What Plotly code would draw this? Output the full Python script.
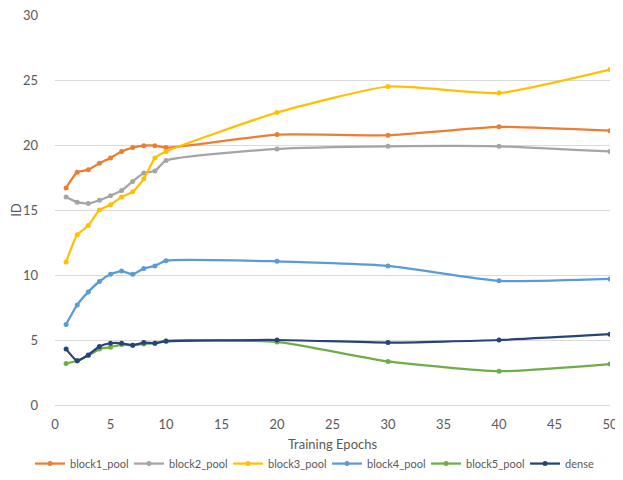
import plotly.graph_objects as go

epochs = [1, 2, 3, 4, 5, 6, 7, 8, 9, 10, 20, 30, 40, 50]
block1_pool = [16.7, 17.9, 18.1, 18.6, 19.0, 19.5, 19.8, 19.95, 19.95, 19.8, 20.8, 20.75, 21.4, 21.1]
block2_pool = [16.0, 15.6, 15.5, 15.75, 16.1, 16.5, 17.2, 17.85, 18.0, 18.8, 19.7, 19.9, 19.9, 19.5]
block3_pool = [11.0, 13.1, 13.8, 15.0, 15.4, 16.0, 16.4, 17.4, 19.0, 19.5, 22.5, 24.5, 24.0, 25.8]
block4_pool = [6.2, 7.7, 8.7, 9.5, 10.05, 10.3, 10.05, 10.5, 10.7, 11.1, 11.05, 10.7, 9.55, 9.7]
block5_pool = [3.2, 3.4, 3.8, 4.3, 4.45, 4.65, 4.6, 4.7, 4.75, 4.95, 4.85, 3.35, 2.6, 3.15]
dense = [4.3, 3.4, 3.85, 4.5, 4.75, 4.75, 4.6, 4.8, 4.75, 4.9, 5.0, 4.8, 5.0, 5.45]

series = [
    ("block1_pool", block1_pool, "#ED7D31"),
    ("block2_pool", block2_pool, "#A5A5A5"),
    ("block3_pool", block3_pool, "#FFC000"),
    ("block4_pool", block4_pool, "#5B9BD5"),
    ("block5_pool", block5_pool, "#70AD47"),
    ("dense", dense, "#264478"),
]

fig = go.Figure()
for name, ys, col in series:
    fig.add_trace(go.Scatter(
        x=epochs, y=ys, name=name, mode="lines+markers",
        line=dict(color=col, width=2.25, shape="spline", smoothing=0.5),
        marker=dict(color=col, size=5),
    ))

font_family = "Lato, Open Sans, sans-serif"
# page body has an 8px margin, so the figure is 8px smaller and shifted
fig.update_layout(
    width=615, height=472,
    paper_bgcolor="white", plot_bgcolor="white",
    margin=dict(l=47, r=13, t=7, b=75, autoexpand=False),
    font=dict(family=font_family, size=13, color="#595959"),
    showlegend=True,
    legend=dict(orientation="h", x=-0.045, xanchor="left",
                y=-0.113, yanchor="top",
                font=dict(size=11, color="#595959"), itemwidth=30, tracegroupgap=0,
                entrywidth=54, entrywidthmode="pixels", itemclick=False),
    xaxis=dict(range=[0, 50], dtick=5, showgrid=False, zeroline=False,
               showline=False, ticks="", ticklabelstandoff=10, ticklabeloverflow="allow",
               tickfont=dict(size=13, color="#595959"),
               title=dict(text="Training Epochs", font=dict(size=13, color="#595959"), standoff=8)),
    yaxis=dict(range=[0, 30], dtick=5, showgrid=True, gridcolor="#D9D9D9", gridwidth=1,
               zeroline=True, zerolinecolor="#D9D9D9", zerolinewidth=1,
               showline=False, ticks="", ticklabelstandoff=16, ticklabeloverflow="allow",
               tickfont=dict(size=13, color="#595959"),
               title=dict(text="ID", font=dict(size=13, color="#595959"), standoff=0)),
)

fig.write_html("out.html")
